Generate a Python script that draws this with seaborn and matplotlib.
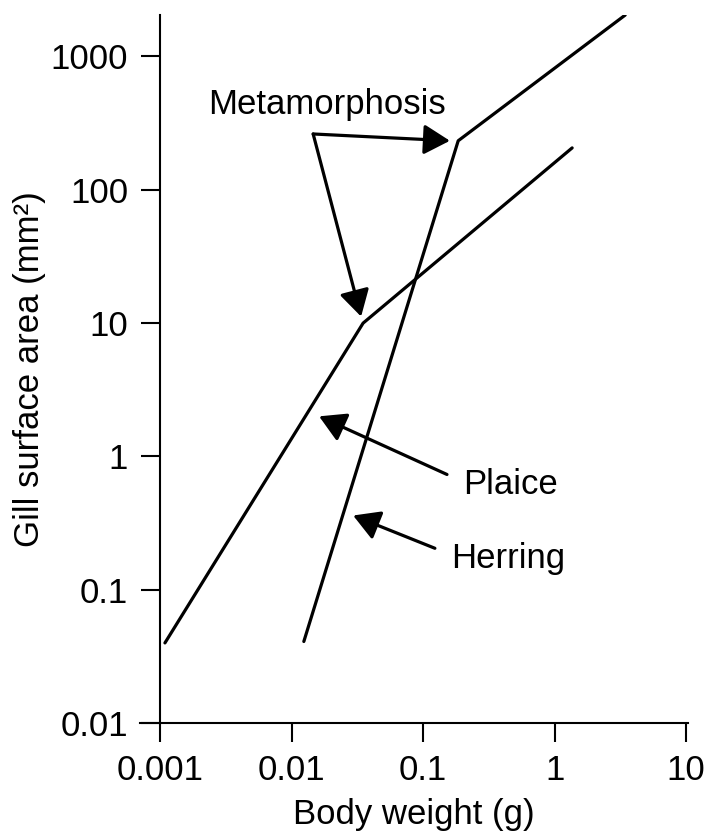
import numpy as np
import pandas as pd
import matplotlib
matplotlib.use('Agg')
import matplotlib.pyplot as plt
import seaborn as sns

# values (log-log, two broken lines)
plaice_x = [0.00109, 0.035, 1.36]
plaice_y = [0.040, 10.0, 206.0]
herring_x = [0.0124, 0.185, 3.44]
herring_y = [0.041, 233.0, 2040.0]

x_ticks = [0.001, 0.01, 0.1, 1, 10]
x_labels = ['0.001', '0.01', '0.1', '1', '10']
y_ticks = [0.01, 0.1, 1, 10, 100, 1000]
y_labels = ['0.01', '0.1', '1', '10', '100', '1000']

df = pd.DataFrame({
    'weight': plaice_x + herring_x,
    'area': plaice_y + herring_y,
    'fish': ['Plaice'] * 3 + ['Herring'] * 3,
})

sns.set_theme(style='ticks')
plt.rcParams['font.family'] = ['Liberation Sans', 'DejaVu Sans']
plt.rcParams['text.color'] = 'black'
plt.rcParams['axes.labelcolor'] = 'black'

fig = plt.figure(figsize=(7.09, 8.39), dpi=100)
ax = fig.add_axes([0.1975, 0.138, 0.773, 0.844])

sns.lineplot(data=df, x='weight', y='area', hue='fish', units='fish',
             estimator=None, sort=False, palette=['black', 'black'],
             linewidth=2.3, legend=False, ax=ax)

ax.set_xscale('log')
ax.set_yscale('log')
ax.set_xlim(10 ** -3.152, 10 ** 1.015)
ax.set_ylim(0.01, 2040)

ax.spines['top'].set_visible(False)
ax.spines['right'].set_visible(False)
ax.spines['left'].set_position(('data', 0.001))
for s in ['left', 'bottom']:
    ax.spines[s].set_linewidth(1.5)
    ax.spines[s].set_color('black')

ax.set_xticks(x_ticks)
ax.set_xticklabels(x_labels)
ax.set_yticks(y_ticks)
ax.set_yticklabels(y_labels)
ax.minorticks_off()
ax.tick_params(axis='both', labelsize=25, width=1.5, length=14,
               color='black', labelcolor='black')
ax.tick_params(axis='x', pad=8)
ax.tick_params(axis='y', pad=9)

ax.set_xlabel('Body weight (g)', fontsize=25, labelpad=8)
ax.set_ylabel('Gill surface area (mm²)', fontsize=25, labelpad=3)

arrow = dict(arrowstyle='-|>,head_length=0.4,head_width=0.23', color='black',
             lw=2.3, mutation_scale=40, shrinkA=0, shrinkB=0)

ax.text(0.0186, 433, 'Metamorphosis', fontsize=25, ha='center', va='center')
ax.annotate('', xy=(0.160, 233), xytext=(0.0146, 262), arrowprops=arrow)
ax.annotate('', xy=(0.0338, 11.2), xytext=(0.0146, 262), arrowprops=arrow)

ax.text(0.201, 0.617, 'Plaice', fontsize=25, ha='left', va='center')
ax.annotate('', xy=(0.0162, 2.0), xytext=(0.152, 0.733), arrowprops=arrow)

ax.text(0.163, 0.172, 'Herring', fontsize=25, ha='left', va='center')
ax.annotate('', xy=(0.0294, 0.361), xytext=(0.123, 0.205), arrowprops=arrow)

fig.savefig('out.png', dpi=100)
